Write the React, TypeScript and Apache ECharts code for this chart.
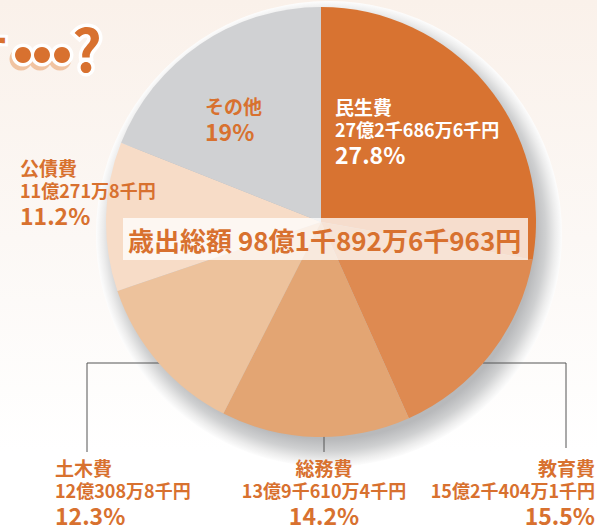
import React, { useEffect, useRef } from "react";
import * as echarts from "echarts";

const categories = ["民生費", "教育費", "総務費", "土木費", "公債費", "その他"];
const percents = [27.8, 15.5, 14.2, 12.3, 11.2, 19];
const amounts = [
  "27億2千686万6千円",
  "15億2千404万1千円",
  "13億9千610万4千円",
  "12億308万8千円",
  "11億271万8千円",
  "",
];
const totalLabel = "歳出総額";
const totalAmount = "98億1千892万6千963円";
const headline = "す";

const colors = ["#D87331", "#DE8A51", "#E3A573", "#EDC29C", "#F7DCC7", "#D0D1D3"];
const ORANGE = "#D8712F";
const FONT = "'Noto Sans CJK JP', 'Noto Sans', sans-serif";

const CX = 321;
const CY = 222;
const R = 215;

const labelSpots: any[] = [
  { x: 335, y: 94, align: "left" },
  { x: 595, y: 455, align: "right", line: [[483, 363], [566, 363], [566, 448]] },
  { x: 324, y: 455, align: "center", line: [[324, 429], [324, 440], [324, 452]] },
  { x: 55, y: 455, align: "left", line: [[160, 363], [87, 363], [87, 452]] },
  { x: 20, y: 155, align: "left" },
  { x: 205, y: 93, align: "left" },
];

const dotXs = [23, 42, 62];

export default function App() {
  const ref = useRef<HTMLDivElement>(null);
  useEffect(() => {
    if (!ref.current) return;
    const chart = echarts.init(ref.current, null, { renderer: "svg" });
    const data = categories.map((name, i) => ({
      name,
      value: percents[i],
      itemStyle: { color: colors[i] },
      label: { color: i === 0 ? "#FFFFFF" : ORANGE },
      labelLine: { show: !!labelSpots[i].line },
    }));
    const deco = { shadowColor: "#F1C4A2", shadowOffsetX: -2, shadowOffsetY: 4 };
    chart.setOption({
      animation: false,
      graphic: [
        {
          type: "text",
          z: 50,
          x: -38,
          y: 26,
          style: {
            text: headline,
            font: `bold 46px ${FONT}`,
            fill: ORANGE,
            stroke: "#FFFFFF",
            lineWidth: 6,
            ...deco,
          },
        },
        ...dotXs.map((cx) => ({
          type: "circle",
          z: 50,
          shape: { cx: cx - 2, cy: 59, r: 11.5 },
          style: { fill: "#F1C4A2" },
        })),
        ...dotXs.map((cx) => ({
          type: "circle",
          z: 51,
          shape: { cx, cy: 55, r: 11.5 },
          style: { fill: "#FFFFFF" },
        })),
        ...dotXs.map((cx) => ({
          type: "circle",
          z: 52,
          shape: { cx, cy: 55, r: 8 },
          style: { fill: ORANGE },
        })),
        {
          type: "text",
          z: 50,
          x: 72,
          y: 18,
          style: {
            text: "?",
            font: `bold 58px ${FONT}`,
            fill: ORANGE,
            stroke: "#FFFFFF",
            lineWidth: 7,
            ...deco,
          },
        },
        {
          type: "rect",
          z: 100,
          shape: { x: 123, y: 218, width: 405, height: 42 },
          style: { fill: "rgba(255,255,255,0.76)" },
        },
        {
          type: "text",
          z: 101,
          x: 128,
          y: 239,
          style: {
            text: totalLabel + " " + totalAmount,
            font: `bold 26px ${FONT}`,
            fill: ORANGE,
            verticalAlign: "middle",
          },
        },
      ],
      series: [
        {
          type: "pie",
          z: 1,
          center: [CX + 8, CY + 12],
          radius: R + 18,
          silent: true,
          label: { show: false },
          labelLine: { show: false },
          itemStyle: {
            color: new echarts.graphic.RadialGradient(0.5, 0.5, 0.5, [
              { offset: 0, color: "#B4B5B7" },
              { offset: 0.88, color: "#B8B9BB" },
              { offset: 0.93, color: "#CFD0D1" },
              { offset: 0.97, color: "#ECECEC" },
              { offset: 1, color: "#FDFDFD" },
            ]),
          },
          data: [{ value: 1, name: "shadow" }],
        },
        {
          type: "pie",
          z: 2,
          center: [CX, CY],
          radius: R,
          startAngle: 90,
          clockwise: true,
          avoidLabelOverlap: false,
          silent: true,
          data,
          label: {
            show: true,
            position: "outside",
            fontFamily: FONT,
            formatter: (p: any) => {
              const i = p.dataIndex;
              const lines = [`{name|${categories[i]}}`];
              if (amounts[i]) lines.push(`{amt|${amounts[i]}}`);
              lines.push(`{pct|${percents[i]}%}`);
              return lines.join("\n");
            },
            rich: {
              name: { fontSize: 19, fontWeight: "bold", lineHeight: 24, fontFamily: FONT },
              amt: { fontSize: 18, fontWeight: "bold", lineHeight: 22, fontFamily: FONT },
              pct: { fontSize: 23, fontWeight: "bold", lineHeight: 28, fontFamily: FONT },
            },
          },
          labelLine: { lineStyle: { color: "#555555", width: 1 } },
          labelLayout: (params: any) => {
            const s = labelSpots[params.dataIndex];
            const out: any = { x: s.x, y: s.y, align: s.align, verticalAlign: "top" };
            if (s.line) out.labelLinePoints = s.line;
            return out;
          },
        },
      ],
    });
    return () => chart.dispose();
  }, []);
  return (
    <div
      ref={ref}
      style={{
        position: "absolute",
        left: 0,
        top: 0,
        width: 597,
        height: 531,
        background: "linear-gradient(180deg, #FAF1EA 0%, #FCF8F5 45%, #FFFFFF 85%, #FFFFFF 100%)",
      }}
    />
  );
}
